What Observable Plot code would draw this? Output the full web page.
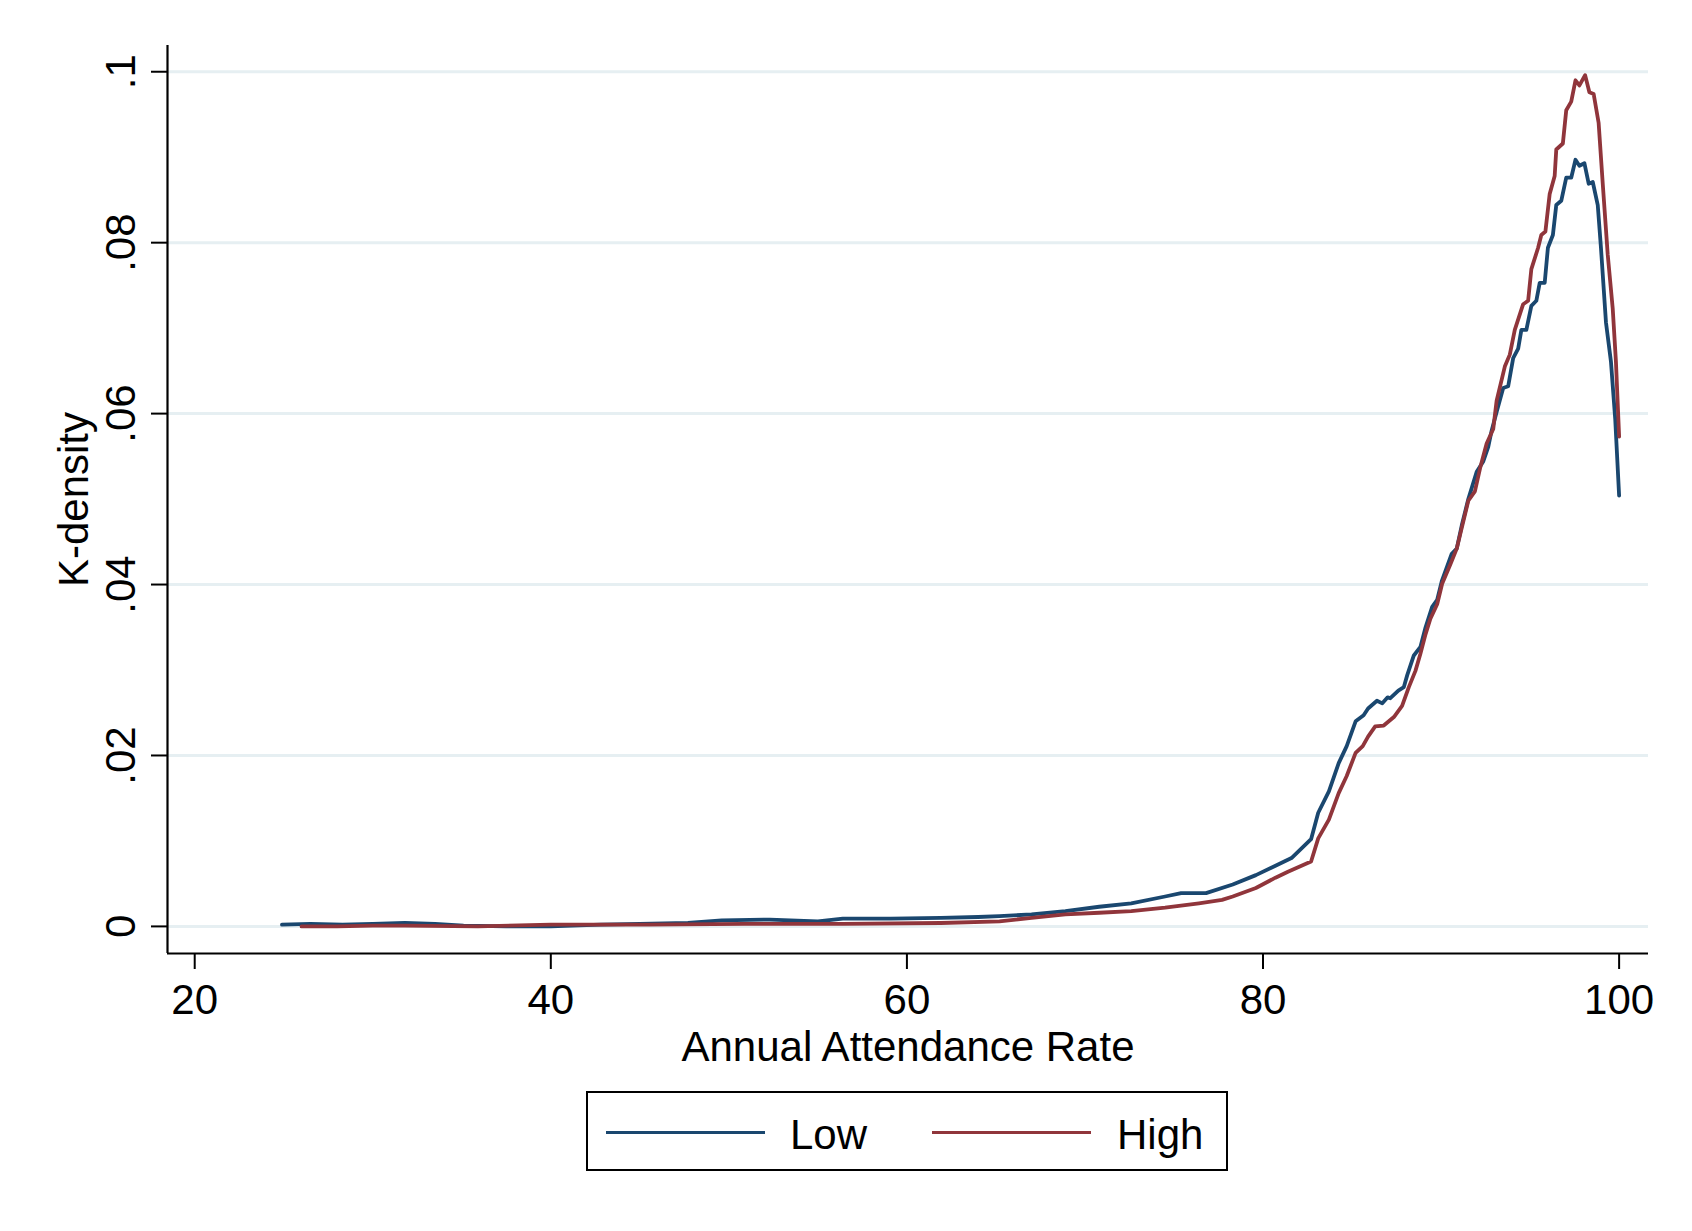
<!DOCTYPE html>
<html>
<head>
<meta charset="utf-8">
<script src="https://cdn.jsdelivr.net/npm/d3@7"></script>
<script src="https://cdn.jsdelivr.net/npm/@observablehq/plot@0.6"></script>
<style>
  html, body { margin: 0; padding: 0; background: #fff; }
  #wrap { position: relative; width: 1692px; height: 1231px; overflow: hidden; font-family: "Liberation Sans", Arial, Helvetica, sans-serif; }
  #legend { position: absolute; left: 586px; top: 1091px; width: 638px; height: 76px; border: 2px solid #000; background: #fff; }
  #legend .sw { position: absolute; top: 37.5px; width: 159px; height: 3.5px; }
  #legend .lb { position: absolute; top: 21px; font-size: 42px; line-height: 42px; color: #000; white-space: nowrap; }
</style>
</head>
<body>
<div id="wrap"></div>
<script>
// ---- data ----
const series = ["Low", "High"];
const seriesColors = ["#1a476f", "#90353b"];

const lowX = [24.9, 26.5, 28.3, 30.0, 31.8, 33.5, 35.1, 37.5, 40.0, 42.8, 45.0, 47.7, 49.6, 52.3, 55.0, 56.4, 59.1, 61.9, 64.0, 65.2, 67.0, 68.9, 70.8, 72.6, 74.5, 75.4, 76.8, 78.3, 79.6, 80.7, 81.6, 82.7, 83.1, 83.7, 84.25, 84.7, 85.2, 85.65, 85.9, 86.4, 86.7, 87.0, 87.15, 87.6, 87.91, 88.1, 88.47, 88.84, 89.13, 89.5, 89.78, 90.04, 90.6, 90.88, 91.16, 91.53, 92.0, 92.37, 92.65, 92.84, 93.12, 93.49, 93.77, 94.05, 94.33, 94.51, 94.79, 95.07, 95.35, 95.54, 95.82, 96.0, 96.28, 96.47, 96.75, 97.03, 97.31, 97.55, 97.77, 98.05, 98.29, 98.52, 98.8, 98.98, 99.26, 99.54, 99.78, 100];
const lowY = [0.0002, 0.0003, 0.0002, 0.0003, 0.0004, 0.0003, 0.0001, 0.0000, 0.0000, 0.0002, 0.0003, 0.0004, 0.0007, 0.0008, 0.0006, 0.0009, 0.0009, 0.0010, 0.0011, 0.0012, 0.0014, 0.0018, 0.0023, 0.0027, 0.0035, 0.0039, 0.0039, 0.0049, 0.0060, 0.0071, 0.0080, 0.0102, 0.0133, 0.0158, 0.0191, 0.0211, 0.0240, 0.0247, 0.0255, 0.0264, 0.0261, 0.0268, 0.0267, 0.0276, 0.0280, 0.0294, 0.0317, 0.0327, 0.0350, 0.0374, 0.0382, 0.0404, 0.0436, 0.0442, 0.0469, 0.0500, 0.0532, 0.0544, 0.0561, 0.0580, 0.0602, 0.0630, 0.0632, 0.0665, 0.0676, 0.0698, 0.0698, 0.0726, 0.0732, 0.0753, 0.0753, 0.0794, 0.0809, 0.0844, 0.0849, 0.0876, 0.0876, 0.0897, 0.0890, 0.0893, 0.0869, 0.0871, 0.0844, 0.0794, 0.0707, 0.0661, 0.0594, 0.0504];

const highX = [26.0, 28.0, 30.0, 31.8, 35.9, 40.0, 45.5, 50.9, 56.4, 61.9, 65.2, 67.0, 68.9, 70.8, 72.6, 74.5, 76.4, 77.7, 78.3, 79.6, 80.7, 81.4, 82.7, 83.1, 83.7, 84.25, 84.7, 85.2, 85.6, 85.9, 86.3, 86.78, 87.35, 87.81, 88.19, 88.56, 88.84, 89.13, 89.4, 89.78, 90.06, 90.53, 90.88, 91.53, 91.9, 92.19, 92.56, 92.93, 93.12, 93.58, 93.86, 94.14, 94.61, 94.89, 95.07, 95.45, 95.63, 95.86, 96.1, 96.38, 96.47, 96.84, 97.03, 97.31, 97.55, 97.77, 98.09, 98.33, 98.57, 98.85, 99.08, 99.36, 99.64, 99.82, 100];
const highY = [0.0000, 0.0000, 0.0001, 0.0001, 0.0000, 0.0002, 0.0002, 0.0003, 0.0003, 0.0004, 0.0006, 0.0010, 0.0014, 0.0016, 0.0018, 0.0022, 0.0027, 0.0031, 0.0035, 0.0045, 0.0057, 0.0064, 0.0076, 0.0103, 0.0125, 0.0156, 0.0176, 0.0203, 0.0211, 0.0222, 0.0234, 0.0235, 0.0245, 0.0258, 0.0280, 0.0299, 0.0319, 0.0342, 0.0360, 0.0377, 0.0401, 0.0424, 0.0442, 0.0498, 0.0509, 0.0536, 0.0565, 0.0582, 0.0615, 0.0655, 0.0669, 0.0698, 0.0728, 0.0732, 0.0769, 0.0794, 0.0809, 0.0813, 0.0857, 0.0878, 0.0909, 0.0916, 0.0955, 0.0965, 0.0990, 0.0984, 0.0996, 0.0976, 0.0974, 0.0940, 0.0869, 0.0786, 0.0723, 0.0661, 0.0573];

const xTicks = [20, 40, 60, 80, 100];
const yTicks = [0, 0.02, 0.04, 0.06, 0.08, 0.1];
const yTickLabels = ["0", ".02", ".04", ".06", ".08", ".1"];
const xTitle = "Annual Attendance Rate";
const yTitle = "K-density";

// ---- build table ----
const data = [
  ...lowX.map((x, i) => ({x, y: lowY[i], s: series[0]})),
  ...highX.map((x, i) => ({x, y: highY[i], s: series[1]}))
];

const xDomain = [18.472, 101.65];
const yDomain = [-0.00317, 0.10307];
const FS = 42;

const chart = Plot.plot({
  width: 1692,
  height: 1085,
  marginLeft: 167,
  marginRight: 44,
  marginTop: 45,
  marginBottom: 132,
  x: {domain: xDomain},
  y: {domain: yDomain},
  color: {domain: series, range: seriesColors},
  style: {fontFamily: '"Liberation Sans", Arial, Helvetica, sans-serif', fontSize: FS + "px", background: "#fff", color: "#000", overflow: "visible"},
  marks: [
    Plot.gridY(yTicks, {stroke: "#e6eff2", strokeOpacity: 1, strokeWidth: 3}),
    Plot.ruleX([xDomain[0]], {stroke: "#000", strokeWidth: 2.2}),
    Plot.ruleY([yDomain[0]], {stroke: "#000", strokeWidth: 2.2}),
    Plot.axisX(xTicks, {tickSize: 16, tickPadding: 15, fontSize: FS, label: null, strokeWidth: 2}),
    Plot.axisY(yTicks, {tickSize: 16, tickFormat: () => "", label: null, strokeWidth: 2}),
    Plot.text(yTicks, {y: d => d, text: (d, i) => yTickLabels[i], frameAnchor: "left", dx: -33, rotate: -90, textAnchor: "middle", lineAnchor: "bottom", fontSize: FS}),
    Plot.line(data, {x: "x", y: "y", z: "s", stroke: "s", strokeWidth: 3.8, strokeLinejoin: "round"}),
    Plot.text([xTitle], {text: d => d, frameAnchor: "bottom", dy: 107, textAnchor: "middle", lineAnchor: "bottom", fontSize: FS}),
    Plot.text([yTitle], {text: d => d, frameAnchor: "left", dx: -80, rotate: -90, textAnchor: "middle", lineAnchor: "bottom", fontSize: FS})
  ]
});

const wrap = document.getElementById("wrap");
wrap.appendChild(chart);

// ---- legend below the plot ----
const legend = document.createElement("div");
legend.id = "legend";
const swLeft = [18, 344];
const lbLeft = [202, 529];
series.forEach((name, i) => {
  const sw = document.createElement("div");
  sw.className = "sw";
  sw.style.left = swLeft[i] + "px";
  sw.style.background = seriesColors[i];
  legend.appendChild(sw);
  const lb = document.createElement("div");
  lb.className = "lb";
  lb.style.left = lbLeft[i] + "px";
  lb.textContent = name;
  legend.appendChild(lb);
});
wrap.appendChild(legend);
</script>
</body>
</html>
